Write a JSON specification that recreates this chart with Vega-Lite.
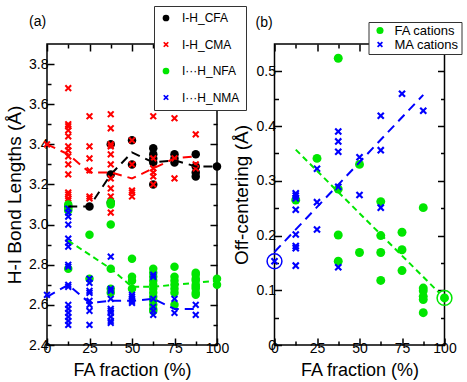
{
  "$schema": "https://vega.github.io/schema/vega-lite/v6.json",
  "padding": {"left": 4, "top": 4, "right": 0, "bottom": 0},
  "autosize": {"type": "pad"},
  "config": {
    "font": "Liberation Sans",
    "view": {"stroke": "black", "strokeWidth": 1.5},
    "axis": {"domain": false, "grid": false, "labelFont": "Liberation Sans", "labelFontSize": 14, "labelColor": "black", "titleFont": "Liberation Sans", "titleFontSize": 18, "titleFontWeight": "normal", "titleColor": "black", "tickColor": "black", "tickWidth": 1.5, "labelFlush": false, "labelOverlap": false},
    "title": {"font": "Liberation Sans", "fontSize": 14, "fontWeight": "normal", "color": "black"}
  },
  "datasets": {
    "a_pts": [
      {"fa": 12.5, "v": 3.09, "bond": "I-H_CFA"}, {"fa": 25, "v": 3.09, "bond": "I-H_CFA"},
      {"fa": 37.5, "v": 3.40, "bond": "I-H_CFA"}, {"fa": 37.5, "v": 3.25, "bond": "I-H_CFA"}, {"fa": 37.5, "v": 3.11, "bond": "I-H_CFA"},
      {"fa": 50, "v": 3.42, "bond": "I-H_CFA"}, {"fa": 50, "v": 3.30, "bond": "I-H_CFA"},
      {"fa": 62.5, "v": 3.38, "bond": "I-H_CFA"}, {"fa": 62.5, "v": 3.35, "bond": "I-H_CFA"}, {"fa": 62.5, "v": 3.33, "bond": "I-H_CFA"}, {"fa": 62.5, "v": 3.31, "bond": "I-H_CFA"}, {"fa": 62.5, "v": 3.20, "bond": "I-H_CFA"},
      {"fa": 75, "v": 3.35, "bond": "I-H_CFA"}, {"fa": 75, "v": 3.33, "bond": "I-H_CFA"}, {"fa": 75, "v": 3.31, "bond": "I-H_CFA"},
      {"fa": 87.5, "v": 3.35, "bond": "I-H_CFA"}, {"fa": 87.5, "v": 3.29, "bond": "I-H_CFA"}, {"fa": 87.5, "v": 3.26, "bond": "I-H_CFA"}, {"fa": 87.5, "v": 3.24, "bond": "I-H_CFA"},
      {"fa": 100, "v": 3.29, "bond": "I-H_CFA"},

      {"fa": 0, "v": 3.40, "bond": "I-H_CMA"},
      {"fa": 12.5, "v": 3.68, "bond": "I-H_CMA"}, {"fa": 12.5, "v": 3.50, "bond": "I-H_CMA"}, {"fa": 12.5, "v": 3.49, "bond": "I-H_CMA"}, {"fa": 12.5, "v": 3.47, "bond": "I-H_CMA"}, {"fa": 12.5, "v": 3.44, "bond": "I-H_CMA"}, {"fa": 12.5, "v": 3.39, "bond": "I-H_CMA"}, {"fa": 12.5, "v": 3.37, "bond": "I-H_CMA"}, {"fa": 12.5, "v": 3.34, "bond": "I-H_CMA"}, {"fa": 12.5, "v": 3.30, "bond": "I-H_CMA"}, {"fa": 12.5, "v": 3.25, "bond": "I-H_CMA"}, {"fa": 12.5, "v": 3.16, "bond": "I-H_CMA"}, {"fa": 12.5, "v": 3.15, "bond": "I-H_CMA"}, {"fa": 12.5, "v": 3.13, "bond": "I-H_CMA"}, {"fa": 12.5, "v": 3.12, "bond": "I-H_CMA"},
      {"fa": 25, "v": 3.54, "bond": "I-H_CMA"}, {"fa": 25, "v": 3.39, "bond": "I-H_CMA"}, {"fa": 25, "v": 3.33, "bond": "I-H_CMA"}, {"fa": 25, "v": 3.27, "bond": "I-H_CMA"}, {"fa": 25, "v": 3.14, "bond": "I-H_CMA"}, {"fa": 25, "v": 3.13, "bond": "I-H_CMA"},
      {"fa": 37.5, "v": 3.55, "bond": "I-H_CMA"}, {"fa": 37.5, "v": 3.48, "bond": "I-H_CMA"}, {"fa": 37.5, "v": 3.40, "bond": "I-H_CMA"}, {"fa": 37.5, "v": 3.39, "bond": "I-H_CMA"}, {"fa": 37.5, "v": 3.35, "bond": "I-H_CMA"}, {"fa": 37.5, "v": 3.30, "bond": "I-H_CMA"}, {"fa": 37.5, "v": 3.23, "bond": "I-H_CMA"}, {"fa": 37.5, "v": 3.18, "bond": "I-H_CMA"}, {"fa": 37.5, "v": 3.14, "bond": "I-H_CMA"}, {"fa": 37.5, "v": 3.06, "bond": "I-H_CMA"},
      {"fa": 50, "v": 3.42, "bond": "I-H_CMA"}, {"fa": 50, "v": 3.30, "bond": "I-H_CMA"}, {"fa": 50, "v": 3.17, "bond": "I-H_CMA"}, {"fa": 50, "v": 3.16, "bond": "I-H_CMA"}, {"fa": 50, "v": 3.14, "bond": "I-H_CMA"},
      {"fa": 62.5, "v": 3.54, "bond": "I-H_CMA"}, {"fa": 62.5, "v": 3.33, "bond": "I-H_CMA"}, {"fa": 62.5, "v": 3.28, "bond": "I-H_CMA"}, {"fa": 62.5, "v": 3.26, "bond": "I-H_CMA"}, {"fa": 62.5, "v": 3.24, "bond": "I-H_CMA"}, {"fa": 62.5, "v": 3.20, "bond": "I-H_CMA"},
      {"fa": 75, "v": 3.53, "bond": "I-H_CMA"}, {"fa": 75, "v": 3.33, "bond": "I-H_CMA"}, {"fa": 75, "v": 3.23, "bond": "I-H_CMA"},
      {"fa": 87.5, "v": 3.45, "bond": "I-H_CMA"}, {"fa": 87.5, "v": 3.30, "bond": "I-H_CMA"}, {"fa": 87.5, "v": 3.28, "bond": "I-H_CMA"},

      {"fa": 12.5, "v": 3.10, "bond": "I···H_NFA"}, {"fa": 12.5, "v": 3.08, "bond": "I···H_NFA"}, {"fa": 12.5, "v": 3.07, "bond": "I···H_NFA"}, {"fa": 12.5, "v": 2.78, "bond": "I···H_NFA"},
      {"fa": 25, "v": 2.95, "bond": "I···H_NFA"}, {"fa": 25, "v": 2.73, "bond": "I···H_NFA"},
      {"fa": 37.5, "v": 3.11, "bond": "I···H_NFA"}, {"fa": 37.5, "v": 3.10, "bond": "I···H_NFA"}, {"fa": 37.5, "v": 3.00, "bond": "I···H_NFA"}, {"fa": 37.5, "v": 2.78, "bond": "I···H_NFA"}, {"fa": 37.5, "v": 2.68, "bond": "I···H_NFA"}, {"fa": 37.5, "v": 2.66, "bond": "I···H_NFA"},
      {"fa": 50, "v": 2.83, "bond": "I···H_NFA"}, {"fa": 50, "v": 2.74, "bond": "I···H_NFA"}, {"fa": 50, "v": 2.72, "bond": "I···H_NFA"}, {"fa": 50, "v": 2.68, "bond": "I···H_NFA"},
      {"fa": 62.5, "v": 2.78, "bond": "I···H_NFA"}, {"fa": 62.5, "v": 2.76, "bond": "I···H_NFA"}, {"fa": 62.5, "v": 2.74, "bond": "I···H_NFA"}, {"fa": 62.5, "v": 2.72, "bond": "I···H_NFA"}, {"fa": 62.5, "v": 2.70, "bond": "I···H_NFA"}, {"fa": 62.5, "v": 2.68, "bond": "I···H_NFA"}, {"fa": 62.5, "v": 2.66, "bond": "I···H_NFA"}, {"fa": 62.5, "v": 2.64, "bond": "I···H_NFA"}, {"fa": 62.5, "v": 2.62, "bond": "I···H_NFA"}, {"fa": 62.5, "v": 2.60, "bond": "I···H_NFA"}, {"fa": 62.5, "v": 2.58, "bond": "I···H_NFA"}, {"fa": 62.5, "v": 2.57, "bond": "I···H_NFA"},
      {"fa": 75, "v": 2.79, "bond": "I···H_NFA"}, {"fa": 75, "v": 2.74, "bond": "I···H_NFA"}, {"fa": 75, "v": 2.72, "bond": "I···H_NFA"}, {"fa": 75, "v": 2.70, "bond": "I···H_NFA"}, {"fa": 75, "v": 2.68, "bond": "I···H_NFA"}, {"fa": 75, "v": 2.66, "bond": "I···H_NFA"}, {"fa": 75, "v": 2.60, "bond": "I···H_NFA"},
      {"fa": 87.5, "v": 2.76, "bond": "I···H_NFA"}, {"fa": 87.5, "v": 2.75, "bond": "I···H_NFA"}, {"fa": 87.5, "v": 2.73, "bond": "I···H_NFA"}, {"fa": 87.5, "v": 2.72, "bond": "I···H_NFA"}, {"fa": 87.5, "v": 2.70, "bond": "I···H_NFA"}, {"fa": 87.5, "v": 2.69, "bond": "I···H_NFA"}, {"fa": 87.5, "v": 2.68, "bond": "I···H_NFA"}, {"fa": 87.5, "v": 2.66, "bond": "I···H_NFA"}, {"fa": 87.5, "v": 2.65, "bond": "I···H_NFA"},
      {"fa": 100, "v": 2.73, "bond": "I···H_NFA"}, {"fa": 100, "v": 2.70, "bond": "I···H_NFA"},

      {"fa": 0, "v": 2.65, "bond": "I···H_NMA"},
      {"fa": 12.5, "v": 3.08, "bond": "I···H_NMA"}, {"fa": 12.5, "v": 3.06, "bond": "I···H_NMA"}, {"fa": 12.5, "v": 3.04, "bond": "I···H_NMA"}, {"fa": 12.5, "v": 3.00, "bond": "I···H_NMA"}, {"fa": 12.5, "v": 2.93, "bond": "I···H_NMA"}, {"fa": 12.5, "v": 2.91, "bond": "I···H_NMA"}, {"fa": 12.5, "v": 2.89, "bond": "I···H_NMA"}, {"fa": 12.5, "v": 2.80, "bond": "I···H_NMA"}, {"fa": 12.5, "v": 2.79, "bond": "I···H_NMA"}, {"fa": 12.5, "v": 2.70, "bond": "I···H_NMA"}, {"fa": 12.5, "v": 2.69, "bond": "I···H_NMA"}, {"fa": 12.5, "v": 2.60, "bond": "I···H_NMA"}, {"fa": 12.5, "v": 2.58, "bond": "I···H_NMA"}, {"fa": 12.5, "v": 2.56, "bond": "I···H_NMA"}, {"fa": 12.5, "v": 2.54, "bond": "I···H_NMA"}, {"fa": 12.5, "v": 2.52, "bond": "I···H_NMA"}, {"fa": 12.5, "v": 2.50, "bond": "I···H_NMA"},
      {"fa": 25, "v": 2.73, "bond": "I···H_NMA"}, {"fa": 25, "v": 2.71, "bond": "I···H_NMA"}, {"fa": 25, "v": 2.67, "bond": "I···H_NMA"}, {"fa": 25, "v": 2.66, "bond": "I···H_NMA"}, {"fa": 25, "v": 2.62, "bond": "I···H_NMA"}, {"fa": 25, "v": 2.60, "bond": "I···H_NMA"}, {"fa": 25, "v": 2.57, "bond": "I···H_NMA"}, {"fa": 25, "v": 2.50, "bond": "I···H_NMA"},
      {"fa": 37.5, "v": 2.84, "bond": "I···H_NMA"}, {"fa": 37.5, "v": 2.68, "bond": "I···H_NMA"}, {"fa": 37.5, "v": 2.67, "bond": "I···H_NMA"}, {"fa": 37.5, "v": 2.63, "bond": "I···H_NMA"}, {"fa": 37.5, "v": 2.58, "bond": "I···H_NMA"}, {"fa": 37.5, "v": 2.57, "bond": "I···H_NMA"}, {"fa": 37.5, "v": 2.56, "bond": "I···H_NMA"}, {"fa": 37.5, "v": 2.54, "bond": "I···H_NMA"}, {"fa": 37.5, "v": 2.52, "bond": "I···H_NMA"}, {"fa": 37.5, "v": 2.51, "bond": "I···H_NMA"},
      {"fa": 50, "v": 2.65, "bond": "I···H_NMA"}, {"fa": 50, "v": 2.64, "bond": "I···H_NMA"}, {"fa": 50, "v": 2.63, "bond": "I···H_NMA"}, {"fa": 50, "v": 2.62, "bond": "I···H_NMA"}, {"fa": 50, "v": 2.61, "bond": "I···H_NMA"},
      {"fa": 62.5, "v": 2.75, "bond": "I···H_NMA"}, {"fa": 62.5, "v": 2.74, "bond": "I···H_NMA"}, {"fa": 62.5, "v": 2.63, "bond": "I···H_NMA"}, {"fa": 62.5, "v": 2.59, "bond": "I···H_NMA"}, {"fa": 62.5, "v": 2.57, "bond": "I···H_NMA"}, {"fa": 62.5, "v": 2.55, "bond": "I···H_NMA"},
      {"fa": 75, "v": 2.63, "bond": "I···H_NMA"}, {"fa": 75, "v": 2.56, "bond": "I···H_NMA"},
      {"fa": 87.5, "v": 2.60, "bond": "I···H_NMA"}, {"fa": 87.5, "v": 2.55, "bond": "I···H_NMA"}
    ],
    "a_lines": [
      {"fa": 12.5, "v": 3.09, "bond": "I-H_CFA"}, {"fa": 25, "v": 3.09, "bond": "I-H_CFA"}, {"fa": 37.5, "v": 3.25, "bond": "I-H_CFA"}, {"fa": 50, "v": 3.36, "bond": "I-H_CFA"}, {"fa": 62.5, "v": 3.31, "bond": "I-H_CFA"}, {"fa": 75, "v": 3.32, "bond": "I-H_CFA"}, {"fa": 87.5, "v": 3.29, "bond": "I-H_CFA"}, {"fa": 100, "v": 3.29, "bond": "I-H_CFA"},
      {"fa": 0, "v": 3.40, "bond": "I-H_CMA"}, {"fa": 12.5, "v": 3.35, "bond": "I-H_CMA"}, {"fa": 25, "v": 3.26, "bond": "I-H_CMA"}, {"fa": 37.5, "v": 3.26, "bond": "I-H_CMA"}, {"fa": 50, "v": 3.23, "bond": "I-H_CMA"}, {"fa": 62.5, "v": 3.28, "bond": "I-H_CMA"}, {"fa": 75, "v": 3.33, "bond": "I-H_CMA"}, {"fa": 87.5, "v": 3.34, "bond": "I-H_CMA"},
      {"fa": 12.5, "v": 2.92, "bond": "I···H_NFA"}, {"fa": 25, "v": 2.85, "bond": "I···H_NFA"}, {"fa": 37.5, "v": 2.78, "bond": "I···H_NFA"}, {"fa": 50, "v": 2.69, "bond": "I···H_NFA"}, {"fa": 62.5, "v": 2.69, "bond": "I···H_NFA"}, {"fa": 75, "v": 2.70, "bond": "I···H_NFA"}, {"fa": 87.5, "v": 2.71, "bond": "I···H_NFA"}, {"fa": 100, "v": 2.72, "bond": "I···H_NFA"},
      {"fa": 0, "v": 2.64, "bond": "I···H_NMA"}, {"fa": 12.5, "v": 2.70, "bond": "I···H_NMA"}, {"fa": 25, "v": 2.61, "bond": "I···H_NMA"}, {"fa": 37.5, "v": 2.62, "bond": "I···H_NMA"}, {"fa": 50, "v": 2.62, "bond": "I···H_NMA"}, {"fa": 62.5, "v": 2.63, "bond": "I···H_NMA"}, {"fa": 75, "v": 2.58, "bond": "I···H_NMA"}, {"fa": 87.5, "v": 2.58, "bond": "I···H_NMA"}
    ],
    "b_pts": [
      {"fa": 12.5, "v": 0.265, "cation": "FA cations"},
      {"fa": 25, "v": 0.341, "cation": "FA cations"},
      {"fa": 37.5, "v": 0.524, "cation": "FA cations"}, {"fa": 37.5, "v": 0.285, "cation": "FA cations"}, {"fa": 37.5, "v": 0.201, "cation": "FA cations"}, {"fa": 37.5, "v": 0.153, "cation": "FA cations"},
      {"fa": 50, "v": 0.330, "cation": "FA cations"}, {"fa": 50, "v": 0.169, "cation": "FA cations"},
      {"fa": 62.5, "v": 0.262, "cation": "FA cations"}, {"fa": 62.5, "v": 0.200, "cation": "FA cations"}, {"fa": 62.5, "v": 0.169, "cation": "FA cations"}, {"fa": 62.5, "v": 0.118, "cation": "FA cations"},
      {"fa": 75, "v": 0.206, "cation": "FA cations"}, {"fa": 75, "v": 0.174, "cation": "FA cations"}, {"fa": 75, "v": 0.136, "cation": "FA cations"},
      {"fa": 87.5, "v": 0.251, "cation": "FA cations"}, {"fa": 87.5, "v": 0.104, "cation": "FA cations"}, {"fa": 87.5, "v": 0.099, "cation": "FA cations"}, {"fa": 87.5, "v": 0.089, "cation": "FA cations"}, {"fa": 87.5, "v": 0.083, "cation": "FA cations"}, {"fa": 87.5, "v": 0.059, "cation": "FA cations"},
      {"fa": 100, "v": 0.086, "cation": "FA cations"},
      {"fa": 0, "v": 0.153, "cation": "MA cations"},
      {"fa": 12.5, "v": 0.277, "cation": "MA cations"}, {"fa": 12.5, "v": 0.273, "cation": "MA cations"}, {"fa": 12.5, "v": 0.268, "cation": "MA cations"}, {"fa": 12.5, "v": 0.247, "cation": "MA cations"}, {"fa": 12.5, "v": 0.202, "cation": "MA cations"}, {"fa": 12.5, "v": 0.181, "cation": "MA cations"}, {"fa": 12.5, "v": 0.177, "cation": "MA cations"}, {"fa": 12.5, "v": 0.145, "cation": "MA cations"},
      {"fa": 25, "v": 0.322, "cation": "MA cations"}, {"fa": 25, "v": 0.261, "cation": "MA cations"}, {"fa": 25, "v": 0.211, "cation": "MA cations"},
      {"fa": 37.5, "v": 0.390, "cation": "MA cations"}, {"fa": 37.5, "v": 0.372, "cation": "MA cations"}, {"fa": 37.5, "v": 0.353, "cation": "MA cations"}, {"fa": 37.5, "v": 0.289, "cation": "MA cations"}, {"fa": 37.5, "v": 0.142, "cation": "MA cations"},
      {"fa": 50, "v": 0.343, "cation": "MA cations"}, {"fa": 50, "v": 0.274, "cation": "MA cations"},
      {"fa": 62.5, "v": 0.419, "cation": "MA cations"}, {"fa": 62.5, "v": 0.356, "cation": "MA cations"}, {"fa": 62.5, "v": 0.251, "cation": "MA cations"},
      {"fa": 75, "v": 0.459, "cation": "MA cations"},
      {"fa": 87.5, "v": 0.428, "cation": "MA cations"}
    ],
    "b_lines": [
      {"fa": 12.5, "v": 0.357, "cation": "FA cations"}, {"fa": 97, "v": 0.095, "cation": "FA cations"},
      {"fa": 0, "v": 0.17, "cation": "MA cations"}, {"fa": 87.5, "v": 0.457, "cation": "MA cations"}
    ],
    "b_rings": [
      {"fa": 0, "v": 0.153, "cation": "MA cations"},
      {"fa": 100, "v": 0.086, "cation": "FA cations"}
    ]
  },
  "spacing": 57.5,
  "bounds": "flush",
  "resolve": {
    "scale": {"color": "independent", "shape": "independent", "x": "independent", "y": "independent"},
    "legend": {"color": "independent", "shape": "independent"}
  },
  "hconcat": [
    {
      "width": 170,
      "height": 301,
      "title": {"text": "(a)", "anchor": "start", "frame": "group", "dx": -18, "offset": -34, "baseline": "alphabetic"},
      "layer": [
        {
          "data": {"name": "a_pts"},
          "mark": {"type": "point", "filled": true, "opacity": 1, "size": 72},
          "encoding": {
            "x": {"field": "fa", "type": "quantitative", "scale": {"domain": [0, 100], "nice": false, "zero": false},
              "axis": {"orient": "bottom", "title": "FA fraction (%)", "values": [0, 12.5, 25, 37.5, 50, 62.5, 75, 87.5, 100],
                "labelExpr": "datum.value % 25 === 0 ? datum.label : ''",
                "tickSize": {"condition": {"test": "datum.value % 25 === 0", "value": -7}, "value": -4},
                "labelPadding": 3, "titlePadding": 3}},
            "y": {"field": "v", "type": "quantitative", "scale": {"domain": [2.4, 3.9], "nice": false, "zero": false},
              "axis": {"orient": "left", "title": "H-I Bond Lengths (Å)", "titleFontSize": 19,
                "values": [2.4, 2.5, 2.6, 2.7, 2.8, 2.9, 3.0, 3.1, 3.2, 3.3, 3.4, 3.5, 3.6, 3.7, 3.8],
                "labelExpr": "round(datum.value*10) % 2 === 0 ? format(datum.value, '.1f') : ''",
                "tickSize": {"condition": {"test": "round(datum.value*10) % 2 === 0", "value": -7}, "value": -4},
                "labelPadding": 6, "titlePadding": 4}},
            "color": {"field": "bond", "type": "nominal",
              "scale": {"domain": ["I-H_CFA", "I-H_CMA", "I···H_NFA", "I···H_NMA"], "range": ["#000000", "#ff0000", "#00e600", "#0000ff"]},
              "legend": {"orient": "none", "legendX": 107, "legendY": -38, "title": null, "labelFontSize": 12, "labelColor": "black", "symbolSize": 45, "rowPadding": 14.5, "padding": 6, "labelOffset": 10, "strokeColor": "#333333", "fillColor": "white"}},
            "shape": {"field": "bond", "type": "nominal",
              "scale": {"domain": ["I-H_CFA", "I-H_CMA", "I···H_NFA", "I···H_NMA"], "range": ["circle", "M-0.85,-0.51L-0.51,-0.85L0,-0.34L0.51,-0.85L0.85,-0.51L0.34,0L0.85,0.51L0.51,0.85L0,0.34L-0.51,0.85L-0.85,0.51L-0.34,0Z", "circle", "M-0.85,-0.51L-0.51,-0.85L0,-0.34L0.51,-0.85L0.85,-0.51L0.34,0L0.85,0.51L0.51,0.85L0,0.34L-0.51,0.85L-0.85,0.51L-0.34,0Z"]},
              "legend": {"orient": "none", "legendX": 107, "legendY": -38, "title": null, "labelFontSize": 12, "labelColor": "black", "symbolSize": 45, "rowPadding": 14.5, "padding": 6, "labelOffset": 10, "strokeColor": "#333333", "fillColor": "white"}}
          }
        },
        {
          "data": {"name": "a_lines"},
          "transform": [{"filter": "datum.bond === 'I-H_CFA'"}],
          "mark": {"type": "line", "color": "#000000", "strokeWidth": 2, "strokeDash": [9, 6]},
          "encoding": {
            "x": {"field": "fa", "type": "quantitative", "scale": {"domain": [0, 100], "nice": false, "zero": false},
              "axis": {"orient": "top", "title": null, "labels": false, "values": [0, 12.5, 25, 37.5, 50, 62.5, 75, 87.5, 100],
                "tickSize": {"condition": {"test": "datum.value % 25 === 0", "value": -7}, "value": -4}}},
            "y": {"field": "v", "type": "quantitative", "scale": {"domain": [2.4, 3.9], "nice": false, "zero": false},
              "axis": {"orient": "right", "title": null, "labels": false,
                "values": [2.4, 2.5, 2.6, 2.7, 2.8, 2.9, 3.0, 3.1, 3.2, 3.3, 3.4, 3.5, 3.6, 3.7, 3.8],
                "tickSize": {"condition": {"test": "round(datum.value*10) % 2 === 0", "value": -7}, "value": -4}}}
          }
        },
        {
          "data": {"name": "a_lines"},
          "transform": [{"filter": "datum.bond === 'I-H_CMA'"}],
          "mark": {"type": "line", "color": "#ff0000", "strokeWidth": 2, "strokeDash": [9, 6]},
          "encoding": {
            "x": {"field": "fa", "type": "quantitative", "scale": {"domain": [0, 100], "nice": false, "zero": false}, "axis": null},
            "y": {"field": "v", "type": "quantitative", "scale": {"domain": [2.4, 3.9], "nice": false, "zero": false}, "axis": null}
          }
        },
        {
          "data": {"name": "a_lines"},
          "transform": [{"filter": "datum.bond === 'I···H_NFA'"}],
          "mark": {"type": "line", "color": "#00e600", "strokeWidth": 2, "strokeDash": [6, 4]},
          "encoding": {
            "x": {"field": "fa", "type": "quantitative", "scale": {"domain": [0, 100], "nice": false, "zero": false}, "axis": null},
            "y": {"field": "v", "type": "quantitative", "scale": {"domain": [2.4, 3.9], "nice": false, "zero": false}, "axis": null}
          }
        },
        {
          "data": {"name": "a_lines"},
          "transform": [{"filter": "datum.bond === 'I···H_NMA'"}],
          "mark": {"type": "line", "color": "#0000ff", "strokeWidth": 2, "strokeDash": [9, 6]},
          "encoding": {
            "x": {"field": "fa", "type": "quantitative", "scale": {"domain": [0, 100], "nice": false, "zero": false}, "axis": null},
            "y": {"field": "v", "type": "quantitative", "scale": {"domain": [2.4, 3.9], "nice": false, "zero": false}, "axis": null}
          }
        }
      ],
      "resolve": {"axis": {"x": "independent", "y": "independent"}}
    },
    {
      "width": 170,
      "height": 301,
      "title": {"text": "(b)", "anchor": "start", "frame": "group", "dx": -19, "offset": -19, "baseline": "alphabetic"},
      "layer": [
        {
          "data": {"name": "b_pts"},
          "mark": {"type": "point", "filled": true, "opacity": 1, "size": 80},
          "encoding": {
            "x": {"field": "fa", "type": "quantitative", "scale": {"domain": [0, 100], "nice": false, "zero": false},
              "axis": {"orient": "bottom", "title": "FA fraction (%)", "values": [0, 12.5, 25, 37.5, 50, 62.5, 75, 87.5, 100],
                "labelExpr": "datum.value % 25 === 0 ? datum.label : ''",
                "tickSize": {"condition": {"test": "datum.value % 25 === 0", "value": -7}, "value": -4},
                "labelPadding": 3, "titlePadding": 3}},
            "y": {"field": "v", "type": "quantitative", "scale": {"domain": [0, 0.55], "nice": false, "zero": false},
              "axis": {"orient": "left", "title": "Off-centering (Å)", "titleFontSize": 19,
                "values": [0, 0.05, 0.1, 0.15, 0.2, 0.25, 0.3, 0.35, 0.4, 0.45, 0.5],
                "labelExpr": "round(datum.value*100) % 10 === 0 ? (datum.value === 0 ? '0' : format(datum.value, '.1f')) : ''",
                "tickSize": {"condition": {"test": "round(datum.value*100) % 10 === 0", "value": -7}, "value": -4},
                "labelPadding": 6, "titlePadding": 5}},
            "color": {"field": "cation", "type": "nominal",
              "scale": {"domain": ["FA cations", "MA cations"], "range": ["#00e600", "#0000ff"]},
              "legend": {"orient": "none", "legendX": 94, "legendY": -22, "title": null, "labelFontSize": 13, "labelColor": "black", "symbolSize": 50, "rowPadding": 0, "padding": 2, "labelOffset": 8, "symbolOffset": 3, "strokeColor": "#333333", "fillColor": "white"}},
            "shape": {"field": "cation", "type": "nominal",
              "scale": {"domain": ["FA cations", "MA cations"], "range": ["circle", "M-0.85,-0.51L-0.51,-0.85L0,-0.34L0.51,-0.85L0.85,-0.51L0.34,0L0.85,0.51L0.51,0.85L0,0.34L-0.51,0.85L-0.85,0.51L-0.34,0Z"]},
              "legend": {"orient": "none", "legendX": 94, "legendY": -22, "title": null, "labelFontSize": 13, "labelColor": "black", "symbolSize": 50, "rowPadding": 0, "padding": 2, "labelOffset": 8, "symbolOffset": 3, "strokeColor": "#333333", "fillColor": "white"}}
          }
        },
        {
          "data": {"name": "b_lines"},
          "transform": [{"filter": "datum.cation === 'FA cations'"}],
          "mark": {"type": "line", "color": "#00e600", "strokeWidth": 2, "strokeDash": [6, 4]},
          "encoding": {
            "x": {"field": "fa", "type": "quantitative", "scale": {"domain": [0, 100], "nice": false, "zero": false},
              "axis": {"orient": "top", "title": null, "labels": false, "values": [0, 12.5, 25, 37.5, 50, 62.5, 75, 87.5, 100],
                "tickSize": {"condition": {"test": "datum.value % 25 === 0", "value": -7}, "value": -4}}},
            "y": {"field": "v", "type": "quantitative", "scale": {"domain": [0, 0.55], "nice": false, "zero": false},
              "axis": {"orient": "right", "title": null, "labels": false,
                "values": [0, 0.05, 0.1, 0.15, 0.2, 0.25, 0.3, 0.35, 0.4, 0.45, 0.5],
                "tickSize": {"condition": {"test": "round(datum.value*100) % 10 === 0", "value": -7}, "value": -4}}}
          }
        },
        {
          "data": {"name": "b_lines"},
          "transform": [{"filter": "datum.cation === 'MA cations'"}],
          "mark": {"type": "line", "color": "#0000ff", "strokeWidth": 2, "strokeDash": [9, 6]},
          "encoding": {
            "x": {"field": "fa", "type": "quantitative", "scale": {"domain": [0, 100], "nice": false, "zero": false}, "axis": null},
            "y": {"field": "v", "type": "quantitative", "scale": {"domain": [0, 0.55], "nice": false, "zero": false}, "axis": null}
          }
        },
        {
          "data": {"name": "b_rings"},
          "transform": [{"filter": "datum.cation === 'MA cations'"}],
          "mark": {"type": "point", "shape": "circle", "filled": false, "size": 220, "strokeWidth": 1.5, "color": "#0000ff", "opacity": 1},
          "encoding": {
            "x": {"field": "fa", "type": "quantitative", "scale": {"domain": [0, 100], "nice": false, "zero": false}, "axis": null},
            "y": {"field": "v", "type": "quantitative", "scale": {"domain": [0, 0.55], "nice": false, "zero": false}, "axis": null}
          }
        },
        {
          "data": {"name": "b_rings"},
          "transform": [{"filter": "datum.cation === 'FA cations'"}],
          "mark": {"type": "point", "shape": "circle", "filled": false, "size": 220, "strokeWidth": 1.5, "color": "#00e600", "opacity": 1},
          "encoding": {
            "x": {"field": "fa", "type": "quantitative", "scale": {"domain": [0, 100], "nice": false, "zero": false}, "axis": null},
            "y": {"field": "v", "type": "quantitative", "scale": {"domain": [0, 0.55], "nice": false, "zero": false}, "axis": null}
          }
        }
      ],
      "resolve": {"axis": {"x": "independent", "y": "independent"}}
    }
  ]
}
